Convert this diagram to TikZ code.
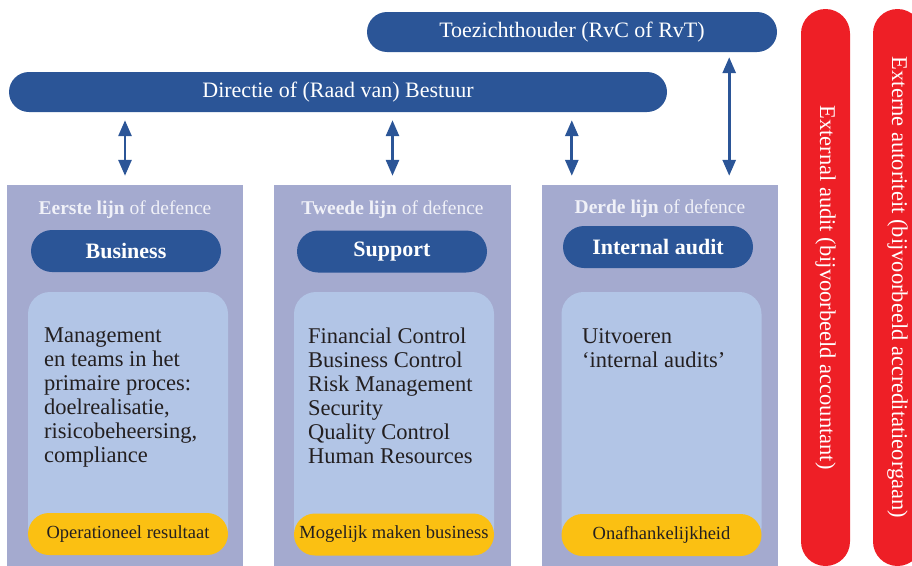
\documentclass[tikz,border=0pt]{standalone}
\usepackage{fontspec}
\setmainfont{Liberation Serif}
\usepackage{tikz}
\usetikzlibrary{positioning,arrows.meta,shapes.misc}

\definecolor{rijksblue}{HTML}{2B5597}
\definecolor{lavender}{HTML}{A4AACF}
\definecolor{paleblue}{HTML}{B2C5E6}
\definecolor{goldyellow}{HTML}{FBC012}
\definecolor{alertred}{HTML}{EE1F26}
\definecolor{inkblack}{HTML}{231F20}
\definecolor{paleline}{HTML}{F0F1F8}

\begin{document}
\begin{tikzpicture}[
  x=1pt, y=-1pt,
  every node/.style={inner sep=0pt},
  bar/.style={rounded rectangle, fill=rijksblue, text=white, minimum height=40pt, font=\fontsize{22}{24}\selectfont},
  linebox/.style={rectangle, fill=lavender, minimum width=236pt, minimum height=381pt},
  linetitle/.style={text=paleline, font=\fontsize{19.5}{22}\selectfont},
  pill/.style={rounded rectangle, fill=rijksblue, text=white, minimum width=190pt, minimum height=42pt, font=\fontsize{22}{24}\selectfont\bfseries},
  taskbox/.style={rectangle, rounded corners=22pt, fill=paleblue, minimum width=200pt, minimum height=258pt},
  tasks/.style={anchor=north west, align=left, text=inkblack, font=\fontsize{22.5}{24}\selectfont},
  goal/.style={rounded rectangle, fill=goldyellow, text=inkblack, minimum width=200pt, minimum height=42pt, font=\fontsize{18.5}{20}\selectfont},
  sidebar/.style={rounded rectangle, fill=alertred, text=white, rotate=-90, minimum width=557pt, minimum height=49pt, font=\fontsize{22.5}{24}\selectfont},
  link/.style={draw=rijksblue, line width=2.8pt, {Triangle[width=13pt,length=16pt]}-{Triangle[width=13pt,length=16pt]}}
]
\useasboundingbox (0,0) rectangle (912,565);

% toezicht en bestuur
\node[bar, minimum width=410pt] (toezicht) at (572,32) {Toezichthouder (RvC of RvT)};
\node[bar, minimum width=658pt] (directie) at (338,92) {Directie of (Raad van) Bestuur};

% de drie lijnen
\node[linebox] (line1) at (125,375.5) {};
\node[linebox, minimum width=237pt] (line2) at (392.5,375.5) {};
\node[linebox] (line3) at (660,375.5) {};

\node[linetitle] (title1) at ([yshift=-25pt]line1.north) {\textbf{Eerste lijn} of defence};
\node[linetitle] (title2) at ([yshift=-25pt]line2.north) {\textbf{Tweede lijn} of defence};
\node[linetitle] (title3) at ([yshift=-24pt]line3.north) {\textbf{Derde lijn} of defence};

\node[pill] (business) at (126,251) {Business};
\node[pill] (support) at (392,251.5) {Support};
\node[pill] (audit) at (658,247) {Internal audit};

\node[taskbox] (task1) at (128,421) {};
\node[taskbox] (task2) at (394,421) {};
\node[taskbox] (task3) at (661.5,421) {};

\node[tasks] (text1) at (44,328) {Management\\en teams in het\\primaire proces:\\doelrealisatie,\\risicobeheersing,\\compliance};
\node[tasks] (text2) at (308,328) {Financial Control\\Business Control\\Risk Management\\Security\\Quality Control\\Human Resources};
\node[tasks] (text3) at (582,328) {Uitvoeren\\`internal audits'};

\node[goal] (goal1) at (128,534) {Operationeel resultaat};
\node[goal] (goal2) at (394,534.5) {Mogelijk maken business};
\node[goal] (goal3) at (661.5,535) {Onafhankelijkheid};

% externe partijen
\node[sidebar] (extaudit) at (825.5,287.5) {External audit (bijvoorbeeld accountant)};
\node[sidebar] (extauth) at (897.5,287.5) {Externe autoriteit (bijvoorbeeld accreditatieorgaan)};

% verbindingen
\coordinate (a3) at ([xshift=30pt]line3.north west);
\coordinate (a4) at ([xshift=-49pt]line3.north east);
\draw[link, shorten <=9pt, shorten >=8pt] (line1.north) -- (line1.north |- directie.south);
\draw[link, shorten <=9pt, shorten >=8pt] (line2.north) -- (line2.north |- directie.south);
\draw[link, shorten <=9pt, shorten >=8pt] (a3) -- (a3 |- directie.south);
\draw[link, shorten <=9pt, shorten >=5pt] (a4) -- (a4 |- toezicht.south);
\end{tikzpicture}
\end{document}
